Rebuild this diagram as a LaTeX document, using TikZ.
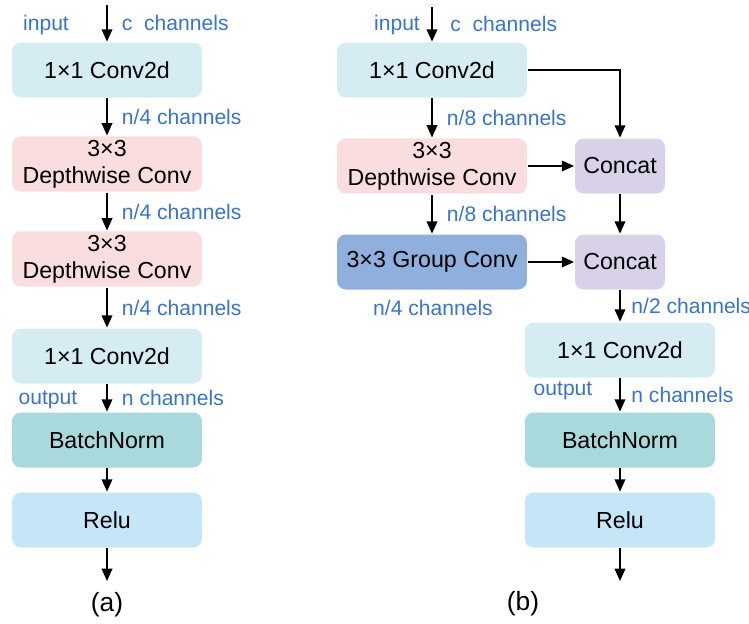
\documentclass[tikz,border=0pt]{standalone}
\usepackage{fontspec}
\setmainfont{Liberation Sans}
\usepackage{tikz}
\usetikzlibrary{calc,arrows.meta}
\definecolor{convblue}{RGB}{212,236,242}
\definecolor{dwpink}{RGB}{250,221,223}
\definecolor{bnteal}{RGB}{168,218,221}
\definecolor{relublue}{RGB}{196,230,246}
\definecolor{grpblue}{RGB}{143,176,221}
\definecolor{catlilac}{RGB}{216,209,231}
\definecolor{chanblue}{RGB}{56,116,200}

\begin{document}
\begin{tikzpicture}[x=0.02cm, y=-0.02cm, >={Triangle[length=7pt,width=6pt]}, line width=1pt,
    block/.style={rounded corners=5pt, minimum width=3.8cm, minimum height=1.1cm,
                  align=center, inner sep=2pt, font=\fontsize{13.2}{15.5}\selectfont},
    catbox/.style={block, minimum width=1.8cm, fill=catlilac},
    chan/.style={text=chanblue, font=\fontsize{12}{13}\selectfont, inner sep=0pt}]
    \useasboundingbox (0,0) rectangle (749,623);
            % (a)
            \coordinate (ina)  at (107,5);
            \coordinate (outa) at (107,581);
            \node[block, fill=convblue] (conva1) at (107,70)  {1×1 Conv2d};
            \node[block, fill=dwpink]   (dwa1)   at (107,164) {3×3\\Depthwise Conv};
            \node[block, fill=dwpink]   (dwa2)   at (107,259) {3×3\\Depthwise Conv};
            \node[block, fill=convblue] (conva2) at (107,356) {1×1 Conv2d};
            \node[block, fill=bnteal]   (bna)    at (107,440) {BatchNorm};
            \node[block, fill=relublue] (relua)  at (107,520) {Relu};
            \node[chan] (inlba)  at (46,25)  {input};
            \node[chan] (outlba) at (48,400) {output};
            \node[font=\fontsize{15}{17}\selectfont] (capa) at (107,605) {(a)};
            \draw[->] (ina) to node[chan, right, xshift=8pt] (cha) {c\ \ channels} (conva1);
            \draw[->] (conva1) to node[chan, right, xshift=8pt] (na1) {n/4 channels} (dwa1);
            \draw[->] (dwa1) to node[chan, right, xshift=8pt] (na2) {n/4 channels} (dwa2);
            \draw[->] (dwa2) to node[chan, right, xshift=8pt] (na3) {n/4 channels} (conva2);
            \draw[->] (conva2) to node[chan, right, xshift=8pt] (na4) {n channels} (bna);
            \draw[->] (bna) to (relua);
            \draw[->] (relua) to (outa);
            % (b)
            \coordinate (inb)  at (432,7);
            \coordinate (outb) at (620,581);
            \node[block, fill=convblue] (convb1) at (432,70)  {1×1 Conv2d};
            \node[block, fill=dwpink]   (dwb)    at (432,166) {3×3\\Depthwise Conv};
            \node[block, fill=grpblue]  (grpb)   at (432,262) {3×3 Group Conv};
            \node[catbox] (cat1) at (620,166) {Concat};
            \node[catbox] (cat2) at (620,262) {Concat};
            \node[block, fill=convblue] (convb2) at (620,350) {1×1 Conv2d};
            \node[block, fill=bnteal]   (bnb)    at (620,440) {BatchNorm};
            \node[block, fill=relublue] (relub)  at (620,520) {Relu};
            \node[chan] (inlbb)  at (397,25)  {input};
            \node[chan] (outlbb) at (563,391) {output};
            \node[chan] (nb4)    at (433,308) {n/4 channels};
            \node[font=\fontsize{15}{17}\selectfont] (capb) at (523,604) {(b)};
            \draw[->] (inb) to node[chan, right, xshift=10pt] (chb) {c\ \ channels} (convb1);
            \draw[->] (convb1) to node[chan, right, xshift=8pt] (nb1) {n/8 channels} (dwb);
            \draw[->] (dwb) to node[chan, right, xshift=8pt] (nb2) {n/8 channels} (grpb);
            \draw[->] (convb1) -| (cat1);
            \draw[->] (dwb) to (cat1);
            \draw[->] (grpb) to (cat2);
            \draw[->] (cat1) to (cat2);
            \draw[->] (cat2) to node[chan, right, xshift=6pt] (nb3) {n/2 channels} (convb2);
            \draw[->] (convb2) to node[chan, right, xshift=6pt] (nb5) {n channels} (bnb);
            \draw[->] (bnb) to (relub);
            \draw[->] (relub) to (outb);
        \end{tikzpicture}
\end{document}
